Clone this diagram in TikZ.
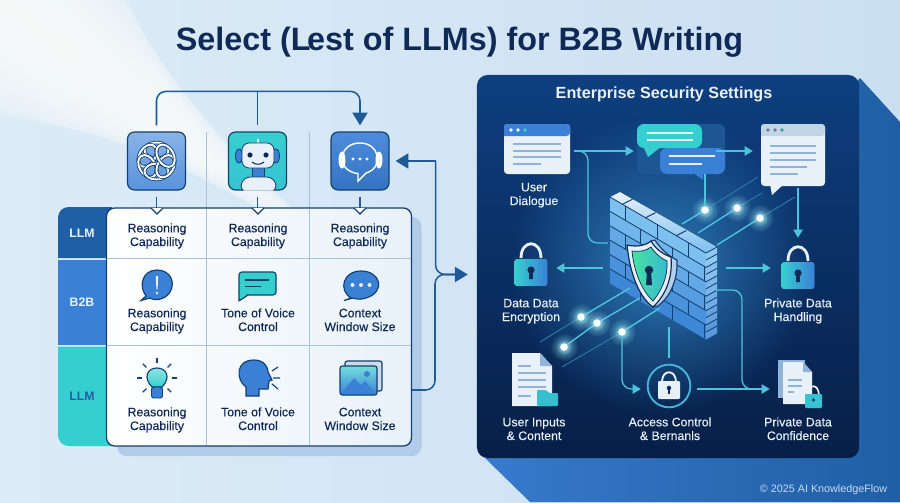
\documentclass[tikz,border=0pt]{standalone}
\usepackage{fontspec}
\setmainfont{Liberation Sans}
\newfontfamily\medfont[FakeBold=0.35]{Liberation Sans}
\newfontfamily\lightfont[FakeBold=0.15]{Liberation Sans}
\usetikzlibrary{shapes,arrows.meta,positioning,calc,fadings}

\definecolor{ink}{HTML}{0F2A56}
\definecolor{navy}{HTML}{14406F}
\definecolor{linkblue}{HTML}{1F5B99}
\definecolor{midblue}{HTML}{3A80D6}
\definecolor{deepblue}{HTML}{1F5FA5}
\definecolor{teal}{HTML}{36CFCF}
\definecolor{wirecyan}{HTML}{4CC4DC}
\definecolor{pale}{HTML}{E8F1F9}
\definecolor{softline}{HTML}{A9C2D8}
\definecolor{docline}{HTML}{8FB4D8}
\definecolor{panelA}{HTML}{0E3F80}
\definecolor{panelB}{HTML}{071F47}
\definecolor{brickA}{HTML}{7CC0F0}
\definecolor{brickB}{HTML}{2F78D0}
\definecolor{skyB}{HTML}{D6E8F5}
\definecolor{skyD}{HTML}{CADFF2}

\tikzfading[name=glowfade, inner color=transparent!25, outer color=transparent!100]

\tikzset{
  padlock/.pic={
    \draw[pale, line width=2.4pt] (-10,-12) .. controls (-10,-31) and (10,-31) .. (10,-12);
    \fill[left color=teal, right color=midblue, rounded corners=2pt] (-16.5,-11) rectangle (16.5,16);
    \fill[ink] (0,0) circle (3.6);
    \fill[ink] (-1.6,1) -- (1.6,1) -- (2,9) -- (-2,9) -- cycle;
  },
  docrows/.pic={
    \foreach \y/\w in {0/46,7/46,14/46,21/37,28/28}
      \draw[docline, line width=1.1pt] (0,\y) -- (\w,\y);
  }
}

\begin{document}
\begin{tikzpicture}[x=0.03cm,y=-0.03cm]
  \tikzstyle{iconbox}=[rectangle, rounded corners=6pt, draw=navy, line width=1pt, minimum size=1.74cm, inner sep=0]
  \tikzstyle{spot}=[rectangle, inner sep=0]
  \tikzstyle{cell}=[font=\medfont\fontsize{10.5}{11.7}\selectfont, text=ink, align=center, inner sep=0, anchor=base]
  \tikzstyle{label}=[font=\lightfont\fontsize{10.5}{11.7}\selectfont, text=pale, align=center, inner sep=0, anchor=base]
  \tikzstyle{rowhead}=[font=\bfseries\fontsize{10.5}{12}\selectfont, inner sep=0]
  \tikzstyle{link}=[draw=linkblue, line width=1.3pt]
  \tikzstyle{linktip}=[-{Triangle[length=11pt,width=13pt]}]
  \tikzstyle{wire}=[draw=wirecyan, line width=1.1pt, -{Triangle[length=7pt,width=8pt]}]
  \tikzstyle{beam}=[draw=wirecyan, line width=1.2pt]
  \tikzstyle{beamfade}=[draw=wirecyan!45!panelA, line width=.8pt]
  \tikzstyle{dot}=[circle, fill=white, inner sep=0, minimum size=.22cm]
  \tikzstyle{knot}=[draw=navy, line width=3pt]
  \tikzstyle{knotin}=[draw=white, line width=1.6pt]

  \useasboundingbox (0,0) rectangle (900,502);

  % Background
  \begin{scope}
    \clip (0,0) rectangle (900,502);
    \shade[left color=skyB!85!white, right color=skyD] (0,0) rectangle (900,502);
    \foreach \w in {10,20,...,130}
      \fill[white, opacity=.13] ({.6*\w},{-.8*\w}) -- ({(560-2.4*\w)*.8},{(560-2.4*\w)*.6}) -- ({-.6*\w},{.8*\w}) -- cycle;
  \end{scope}
  \shade[left color=midblue!95!black, right color=deepblue] (860,78) -- (900,122) -- (900,502) -- (530,502) -- (485,458) -- cycle;

  \node[font=\bfseries\fontsize{27.6}{32}\selectfont, text=ink, inner sep=0] (title) at (459.5,42) {Select (L\kern-3pt est of LLMs) for B2B Writing};

  % Left: model icons
  \node[iconbox, top color=midblue!60!white, bottom color=midblue!85] (box1) at (156.5,161) {};
  \node[iconbox, top color=teal, bottom color=teal!85!midblue] (box2) at (257.5,161) {};
  \node[iconbox, top color=midblue!90!white, bottom color=midblue!90!black] (box3) at (360,161) {};

  \foreach \x in {206.5,309}
    \draw[softline, line width=.7pt] (\x,132) -- (\x,208);

  \draw[link, linktip, rounded corners=8pt] ($(box1.north)+(0,-6)$) |- ($(box3.north)+(0,-40)$) -- ($(box3.north)+(0,-6)$);
  \draw[link] ($(box2.north)+(0,-6)$) -- ($(box2.north)+(0,-40)$);

  % Knot
  \foreach \a in {0,60,...,300} {
    \draw[knot, rotate around={\a:(156.5,161)}] (156.5,150.5) ellipse (12 and 8);
    \draw[knotin, rotate around={\a:(156.5,161)}] (156.5,150.5) ellipse (12 and 8);
  }

  % Robot
  \begin{scope}
    \clip[rounded corners=6pt] (box2.south west) rectangle (box2.north east);
    \draw[pale, line width=1pt] (258,139) -- (258,144);
    \fill[midblue, draw=navy, line width=.7pt] (239,156) ellipse (3.5 and 7) (276,156) ellipse (3.5 and 7);
    \fill[midblue, draw=navy, line width=.7pt] (252,166) rectangle (264,178);
    \fill[pale, draw=navy, line width=.7pt, rounded corners=6pt] (242,143) rectangle (274,168);
    \fill[pale, draw=navy, line width=.7pt, rounded corners=8pt] (241,194) -- (241,177) -- (276,177) -- (276,194) -- cycle;
    \fill[ink] (250,155) circle (2.6) (266,155) circle (2.6);
    \draw[ink, line width=.9pt] (252,162) .. controls (255,165) and (261,165) .. (264,162);
  \end{scope}

  % Headset bubble
  \fill[white] (342,160) ellipse (3.5 and 8.5) (379,160) ellipse (3.5 and 8.5);
  \draw[white, line width=1.2pt] (352,172) .. controls (336,166) and (340,143) .. (360,143) .. controls (380,143) and (384,168) .. (366,173) -- (358,181) -- (358,173.5) .. controls (356,173.5) and (354,173) .. (352,172);
  \fill[white] (353,159) circle (1.7) (360,159) circle (1.7) (367,159) circle (1.7);

  % Left: table
  \fill[softline!50!midblue!55!white, rounded corners=8pt] (117,217) rectangle (421.5,456);
  \fill[deepblue] (112,207) [rounded corners=9pt] -- (58,207) [sharp corners] -- (58,258) -- (112,258) -- cycle;
  \fill[midblue] (58,260) rectangle (112,345);
  \fill[teal] (112,346.5) -- (58,346.5) [rounded corners=9pt] -- (58,446) [sharp corners] -- (112,446) -- cycle;
  \node[rowhead, text=pale] (hllm) at (82,233) {LLM};
  \node[rowhead, text=pale] (hb2b) at (82,302) {B2B};
  \node[rowhead, text=deepblue] (hllmb) at (82,396) {LLM};

  \node[rectangle, rounded corners=7pt, draw=navy, line width=1.1pt, minimum width=9.15cm, minimum height=7.14cm, left color=white, right color=pale, inner sep=0] (grid) at (259,327) {};
  \foreach \x in {206.5,309}
    \draw[softline, line width=.8pt] (\x,208.6) -- (\x,445.4);
  \foreach \y in {258.5,345}
    \draw[softline, line width=.8pt] (106.8,\y) -- (411.2,\y);

  % Drops into the table
  \foreach \n/\x in {box1/157,box2/258,box3/360} {
    \draw[link] ($(\n.south)+(0,6)$) -- ($(\n.south)+(0,18)$);
    \draw[navy, fill=white, line width=1pt] (\x-6,208) -- (\x,214) -- (\x+6,208);
  }

  \node[cell] (c11) at (157,246) {Reasoning\\Capability};
  \node[cell] (c12) at (258,246) {Reasoning\\Capability};
  \node[cell] (c13) at (360,246) {Reasoning\\Capability};
  \node[cell] (c21) at (157,331) {Reasoning\\Capability};
  \node[cell] (c22) at (258,331) {Tone of Voice\\Control};
  \node[cell] (c23) at (360,331) {Context\\Window Size};
  \node[cell] (c31) at (157,430) {Reasoning\\Capability};
  \node[cell] (c32) at (258,430) {Tone of Voice\\Control};
  \node[cell] (c33) at (360,430) {Context\\Window Size};

  % Row two icons
  \draw[navy, fill=midblue, line width=1pt] (146,296) .. controls (138,285) and (143,270) .. (157,270) .. controls (170,270) and (176,282) .. (170,292) .. controls (165,300) and (155,301) .. (150,298) -- (141,300.5) -- cycle;
  \fill[pale] (155.8,276) -- (158.2,276) -- (157.6,289) -- (156.4,289) -- cycle;
  \fill[pale] (157,293) circle (1.4);
  \draw[navy, fill=teal, line width=1pt, rounded corners=2.5pt] (239,272) rectangle (276,295);
  \draw[navy, fill=teal, line width=1pt, line join=round] (239,292) -- (239,301) -- (248,295);
  \fill[teal] (240,288) rectangle (250,294.3);
  \draw[navy, line width=1pt] (245,280) -- (269,280) (245,286.5) -- (261,286.5);
  \draw[navy, fill=midblue, line width=1pt] (351,298) .. controls (338,290) and (343,271) .. (361,271) .. controls (381,271) and (386,292) .. (366,298) .. controls (360,300) and (356,299) .. (353,298) -- (344,300.5) -- cycle;
  \fill[pale] (352.5,285) circle (2) (361,285) circle (2) (369.5,285) circle (2);

  % Row three icons
  \foreach \a in {0,45,135,180,225,270,315}
    \draw[navy, line width=1pt] ($(157,378)+(\a:15)$) -- ($(157,378)+(\a:20)$);
  \draw[navy, top color=teal!55!white, bottom color=teal, line width=1pt] (152,387) .. controls (143,378) and (147,368) .. (157,368) .. controls (167,368) and (171,378) .. (162,387) -- cycle;
  \fill[midblue, draw=navy, line width=.8pt, rounded corners=2pt] (151.5,387) rectangle (162.5,398);
  \draw[navy, fill=midblue, line width=1pt] (246,396) -- (246,387) .. controls (236,380) and (235,360) .. (254,360) .. controls (265,360) and (268,368) .. (268,372) -- (272,380) -- (269,381) -- (268,389) -- (259,389) -- (259,396) -- cycle;
  \draw[navy, line width=1pt] (272,371) -- (278,367) (273,378) -- (280,378) (272,384) -- (278,389);
  \draw[navy, fill=softline!60!white, line width=1pt, rounded corners=2pt] (345,361) rectangle (382,391);
  \draw[navy, fill=teal, line width=1pt, rounded corners=2pt, top color=teal!70!white, bottom color=midblue] (340,366) rectangle (377,395);
  \fill[midblue] (341,394) -- (354,378) -- (361,385) -- (365,381) -- (376,394) -- cycle;
  \fill[midblue] (367,374) circle (3);

  % Links to the panel
  \coordinate (spine) at (435,274.5);
  \node[rectangle, rounded corners=9pt, minimum width=11.46cm, minimum height=11.49cm, inner sep=0, top color=panelA, bottom color=panelB] (panel) at (668,266.5) {};
  \draw[link, rounded corners=8pt] ($(grid.east)+(0,63)$) -| (spine) -- ($(panel.west)+(-20,8)$);
  \draw[link, linktip, rounded corners=8pt] ($(box3.east)+(46,0)$) -- ($(box3.east)+(6,0)$);
  \draw[link, linktip, rounded corners=8pt] ($(box3.east)+(46,0)$) |- ($(panel.west)+(-9,8)$);

  % Right: panel
  \fill[midblue!75!teal, path fading=glowfade] (660,265) circle (150);
  \node[font=\bfseries\fontsize{13.8}{16}\selectfont, text=pale, inner sep=0] (ptitle) at (664,94) {Enterprise Security Settings};

  % User window
  \node[rectangle, rounded corners=3pt, fill=pale, minimum width=1.98cm, minimum height=1.5cm, inner sep=0] (winuser) at (537,149) {};
  \fill[midblue] (504,136) [rounded corners=3pt] -- (504,124) -- (570,124) -- (570,136) [sharp corners] -- cycle;
  \fill[white] (511,130) circle (1.8) (518,130) circle (1.8);
  \fill[teal] (525,130) circle (1.8);
  \foreach \y/\w in {144/561,151/561,157/561,164/541}
    \draw[docline, line width=1.1pt] (513,\y) -- (\w,\y);
  \node[label] (luser) at (534,205) {User\\Dialogue};

  % Chat bubbles
  \node[rectangle, rounded corners=5pt, fill=deepblue!90!black, minimum width=2.64cm, minimum height=1.5cm, inner sep=0] (chat) at (681,149) {};
  \fill[teal, rounded corners=6pt] (637,124) rectangle (702,148);
  \fill[teal] (643,146) -- (648,157) -- (662,146) -- cycle;
  \fill[midblue, rounded corners=6pt] (660,148) rectangle (725,174);
  \fill[midblue] (692,172) -- (703,180) -- (703,172) -- cycle;
  \foreach \y/\a/\b in {133/647/693,140/647/693,156/669/715,164/669/702}
    \draw[pale, line width=1.2pt] (\a,\y) -- (\b,\y);

  % Reply document
  \node[rectangle, rounded corners=3pt, fill=pale, minimum width=1.92cm, minimum height=1.86cm, inner sep=0] (respdoc) at (793,155) {};
  \fill[pale] (770,184) -- (772,195) -- (784,184) -- cycle;
  \fill[softline!70!white] (761,136) [rounded corners=3pt] -- (761,124) -- (825,124) -- (825,136) [sharp corners] -- cycle;
  \fill[docline!70!black] (768,130) circle (1.8) (775,130) circle (1.8);
  \fill[teal!80!black] (782,130) circle (1.8);
  \pic at (770,146) {docrows};

  % Firewall
  \node[spot, minimum width=3.69cm, minimum height=4.26cm] (wall) at (664.5,268) {};
  \fill[top color=pale, bottom color=brickA] (610,197) -- (620,192) -- (717,247) -- (706,253) -- cycle;
  \foreach \r in {0,...,5} {
    \pgfmathsetmacro\pc{100-\r*16}
    \fill[brickA!\pc!brickB] (610,197+14.4*\r) -- (706,253+14.4*\r) -- (706,267.4+14.4*\r) -- (610,211.4+14.4*\r) -- cycle;
    \fill[brickA!\pc!brickB!85!white] (706,253+14.4*\r) -- (717,247+14.4*\r) -- (717,261.4+14.4*\r) -- (706,267.4+14.4*\r) -- cycle;
    \pgfmathsetmacro\st{mod(\r,2)*0.16+0.16}
    \foreach \c in {0,1,2}
      \draw[navy, line width=.7pt] ({610+96*(\st+\c*0.33)},{197+56*(\st+\c*0.33)+14.4*\r}) -- ({610+96*(\st+\c*0.33)},{197+56*(\st+\c*0.33)+14.4*(\r+1)});
    \draw[navy, line width=.7pt] (706,260+14.4*\r) -- (717,254+14.4*\r);
  }
  \foreach \r in {1,...,5}
    \draw[navy, line width=.7pt] (610,197+14.4*\r) -- (706,253+14.4*\r) -- (717,247+14.4*\r);
  \foreach \t in {0.13,0.37,0.69}
    \draw[navy, line width=.9pt] ({610+96*\t},{197+56*\t}) -- ({620+96*\t},{192+56*\t});
  \draw[navy, line width=.7pt] (610,197) -- (706,253) -- (717,247);

  % Shield
  \draw[navy, fill=pale!70!midblue, line width=1pt, line join=round] (651,241) -- (655,240) .. controls (660,248) and (668,256) .. (677,260) .. controls (678,280) and (670,297) .. (658,306) -- (653,307) -- cycle;
  \draw[ink, fill=pale, line width=1pt, line join=round] (627,245) .. controls (636,247) and (645,246) .. (651,241) .. controls (655,248) and (662,254) .. (671,257) .. controls (673,278) and (665,296) .. (653,307) .. controls (640,298) and (630,275) .. (627,245) -- cycle;
  \shade[left color=teal!70!green!85!white, right color=teal!70!midblue, draw=ink, line width=.6pt] (632,251) .. controls (639,252) and (646,251) .. (651,247) .. controls (655,253) and (660,258) .. (667,261) .. controls (668,278) and (661,291) .. (653,301) .. controls (643,292) and (634,273) .. (632,251) -- cycle;
  \fill[ink] (649,270) circle (4.2);
  \fill[ink] (647,272) -- (651,272) -- (652,285) -- (646,285) -- cycle;

  % Beams and lights
  \node[dot] (dotA) at (705,210) {};
  \node[dot] (dotB) at (737,208) {};
  \node[dot] (dotC) at (760,218) {};
  \node[dot] (dotD) at (581,317) {};
  \node[dot] (dotE) at (597,323) {};
  \node[dot] (dotF) at (564,347) {};
  \node[dot] (dotG) at (622,332) {};
  \foreach \a/\b/\c in {682/224/dotA,698/233/dotB,717/245/dotC,630/288/dotD,640/298/dotE,660/308/dotG}
    \draw[beam] (\a,\b) -- (\c);
  \draw[beam] (dotE) -- (dotF);
  \foreach \a/\b/\c in {758/177/dotA,762/193/dotB,795/197/dotC,540/342/dotD,562/367/dotG}
    \draw[beamfade] (\a,\b) -- (\c);
  \foreach \n in {dotA,dotB,dotC,dotD,dotE,dotF,dotG} {
    \fill[wirecyan!70!white, path fading=glowfade] (\n) circle (14);
    \fill[teal!40!white, path fading=glowfade] (\n) circle (8);
    \node[dot] at (\n) {};
  }

  % Locks
  \node[spot, minimum width=1.5cm, minimum height=1.8cm] (lockl) at (531,268) {};
  \pic at (531,270) {padlock};
  \node[spot, minimum width=1.62cm, minimum height=1.8cm] (lockr) at (798,268) {};
  \pic at (798,273) {padlock};
  \node[label] (lleft) at (531,321) {Data Data\\Encryption};
  \node[label] (lright) at (798,321) {Private Data\\Handling};

  % Input document
  \fill[pale] (512,353) -- (540,353) -- (552,366) -- (552,406) -- (512,406) -- cycle;
  \fill[docline] (540,353) -- (552,366) -- (540,366) -- cycle;
  \foreach \y/\b in {366/531,373/546,380/546,387/546,396/531}
    \draw[docline, line width=1.1pt] (518,\y) -- (\b,\y);
  \fill[teal!80!midblue, rounded corners=1pt] (537,406) -- (537,390) -- (546,390) -- (549,393) -- (558,393) -- (558,406) -- cycle;
  \node[spot, minimum width=1.38cm, minimum height=1.6cm] (docin) at (535,380) {};
  \node[label] (linput) at (534,440) {User Inputs\\\& Content};

  % Access control
  \node[circle, draw=wirecyan!75!midblue, line width=1.6pt, minimum size=1.28cm, inner sep=0] (lockc) at (669,386) {};
  \draw[pale, line width=1.6pt] (662,382) .. controls (662,369) and (676,369) .. (676,382);
  \fill[pale, rounded corners=1pt] (658,381) rectangle (680,399);
  \fill[ink] (669,388) circle (2.2);
  \fill[ink] (668,389) rectangle (670,394);
  \node[label] (lacc) at (670,440) {Access Control\\\& Bernanls};

  % Private documents
  \node[spot, minimum width=1.8cm, minimum height=1.6cm] (privdoc) at (800,384) {};
  \fill[docline] (778,360) rectangle (805,398);
  \fill[pale] (783,362) -- (803,362) -- (812,372) -- (812,404) -- (783,404) -- cycle;
  \fill[docline] (803,362) -- (812,372) -- (803,372) -- cycle;
  \foreach \y/\b in {380/802,386/802,392/794}
    \draw[docline, line width=1.1pt] (788,\y) -- (\b,\y);
  \draw[pale, line width=1.4pt] (808,396) .. controls (808,383) and (819,383) .. (819,396);
  \fill[teal!85!midblue, rounded corners=1pt] (805,394) rectangle (822,408);
  \fill[ink] (813.5,400) circle (1.6);
  \node[label] (lpriv) at (798,440) {Private Data\\Confidence};

  % Wires
  \draw[wire, shorten <=3pt] ($(winuser.east)+(0,2)$) -- ($(chat.west)+(-3,2)$);
  \draw[wire, -, rounded corners=8pt] ($(winuser.east)+(13,2)$) -- (588,151) -- (588,243) -- ($(wall.west)+(5,-25)$);
  \draw[wire] ($(chat.east)+(-9,2)$) -- ($(respdoc.west)+(-8,-4)$);
  \draw[wire, -] ($(chat.south)+(24,0)$) -- (dotA);
  \draw[wire] ($(respdoc.south)+(5,2)$) -- (lockr.north);
  \draw[wire] (wall.west) -- (lockl.east);
  \draw[wire] (wall.east) -- (lockr.west);
  \draw[wire, -, shorten >=5pt] ($(wall.south)+(4.5,-12)$) -- (lockc.north);
  \draw[wire, shorten >=5pt, rounded corners=8pt] (dotG) |- ($(lockc.west)+(0,3)$);
  \draw[wire] ($(lockc.east)+(6,3)$) -- ($(privdoc.west)+(0,5)$);
  \draw[wire, -, rounded corners=8pt] ($(wall.east)+(-10,22)$) -- (742,290) -- (742,389) -- ($(privdoc.west)+(-12,5)$);

  \node[font=\fontsize{9.2}{11}\selectfont, text=pale!80!midblue, inner sep=0] (foot) at (823.5,490) {© 2025 AI KnowledgeFlow};
\end{tikzpicture}
\end{document}
